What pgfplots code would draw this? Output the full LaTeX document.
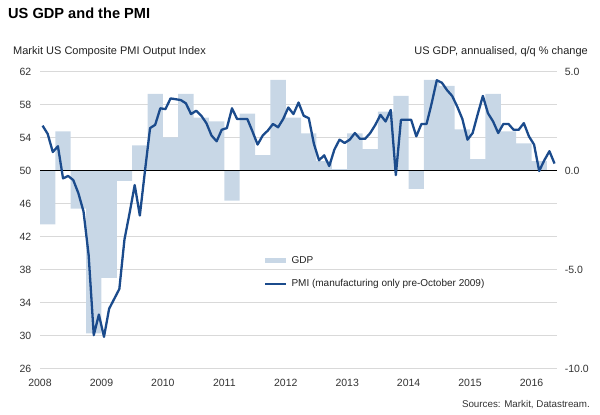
\documentclass[border=0pt]{standalone}
\usepackage{fontspec}
\setmainfont{Liberation Sans}
\usepackage{pgfplots}
\usepackage{pgfplotstable}
\pgfplotsset{compat=1.18}

\definecolor{gdpbar}{HTML}{C8D7E6}
\definecolor{pmiline}{HTML}{1B4B8C}
\definecolor{gridgrey}{HTML}{D9D9D9}
\definecolor{ticktext}{HTML}{333333}
\definecolor{labeltext}{HTML}{222222}

\newcommand{\tickfont}{\fontsize{10.5pt}{12pt}\selectfont}
\newcommand{\labelfont}{\fontsize{11pt}{13pt}\selectfont}
\newcommand{\legendfont}{\fontsize{10pt}{12pt}\selectfont}
\newcommand{\titlefont}{\fontsize{14.6pt}{17pt}\selectfont\bfseries}

% US real GDP, annualised q/q % change
\pgfplotstableread{
year q gdp
2008 1 -2.7
2008 2 2.0
2008 3 -1.9
2008 4 -8.2
2009 1 -5.4
2009 2 -0.5
2009 3 1.3
2009 4 3.9
2010 1 1.7
2010 2 3.9
2010 3 2.7
2010 4 2.5
2011 1 -1.5
2011 2 2.9
2011 3 0.8
2011 4 4.6
2012 1 2.7
2012 2 1.9
2012 3 0.5
2012 4 0.1
2013 1 1.9
2013 2 1.1
2013 3 3.0
2013 4 3.8
2014 1 -0.9
2014 2 4.6
2014 3 4.3
2014 4 2.1
2015 1 0.6
2015 2 3.9
2015 3 2.0
2015 4 1.4
2016 1 0.5
}\gdptable

% Markit US Composite PMI Output Index (manufacturing before Oct 2009)
\pgfplotstableread{
year month pmi
2008 1 55.5
2008 2 54.5
2008 3 52.3
2008 4 53.0
2008 5 49.1
2008 6 49.4
2008 7 48.9
2008 8 47.3
2008 9 45.1
2008 10 39.8
2008 11 30.1
2008 12 32.6
2009 1 29.9
2009 2 33.3
2009 3 34.5
2009 4 35.7
2009 5 41.7
2009 6 44.9
2009 7 48.3
2009 8 44.6
2009 9 50.0
2009 10 55.2
2009 11 55.6
2009 12 57.6
2010 1 57.5
2010 2 58.8
2010 3 58.7
2010 4 58.6
2010 5 58.2
2010 6 56.9
2010 7 57.3
2010 8 56.7
2010 9 55.8
2010 10 54.3
2010 11 53.6
2010 12 55.0
2011 1 55.2
2011 2 57.6
2011 3 56.3
2011 4 56.3
2011 5 56.3
2011 6 54.8
2011 7 53.2
2011 8 54.3
2011 9 54.9
2011 10 55.7
2011 11 55.3
2011 12 56.3
2012 1 57.7
2012 2 56.9
2012 3 58.3
2012 4 56.7
2012 5 56.4
2012 6 53.3
2012 7 51.3
2012 8 51.9
2012 9 50.6
2012 10 52.6
2012 11 53.8
2012 12 53.4
2013 1 53.8
2013 2 54.6
2013 3 53.9
2013 4 53.9
2013 5 54.6
2013 6 55.6
2013 7 56.8
2013 8 56.0
2013 9 57.4
2013 10 49.5
2013 11 56.2
2013 12 56.2
2014 1 56.2
2014 2 54.2
2014 3 55.7
2014 4 55.7
2014 5 58.2
2014 6 61.0
2014 7 60.7
2014 8 59.8
2014 9 59.1
2014 10 57.8
2014 11 56.3
2014 12 53.8
2015 1 54.6
2015 2 56.9
2015 3 59.1
2015 4 57.0
2015 5 56.0
2015 6 54.6
2015 7 55.7
2015 8 55.7
2015 9 55.0
2015 10 55.0
2015 11 55.8
2015 12 54.2
2016 1 53.2
2016 2 50.0
2016 3 51.3
2016 4 52.4
2016 5 50.9
}\pmitable

\pgfplotsset{
  frame/.style={
    at={(40pt,46pt)}, anchor=south west,
    scale only axis, width=516.7pt, height=297pt,
    xmin=2008, xmax=2016.41,
    axis line style={draw=none},
    major tick length=0pt,
    tick style={draw=none},
  },
}

\begin{document}
\begin{tikzpicture}[x=1pt,y=1pt]
\useasboundingbox (0,0) rectangle (600,415);

% left scale: grid, PMI ticks and years
\begin{axis}[frame,
  ymin=26, ymax=62,
  ytick={26,30,34,38,42,46,50,54,58,62},
  yticklabels={26,30,34,38,42,46,50,54,58,62},
  xtick={2008,2009,2010,2011,2012,2013,2014,2015,2016},
  xticklabels={2008,2009,2010,2011,2012,2013,2014,2015,2016},
  ymajorgrids,
  major grid style={gridgrey, line width=1pt},
  yticklabel style={font=\tickfont, text=ticktext, inner sep=0pt, anchor=east, xshift=-8.5pt},
  xticklabel style={font=\tickfont, text=ticktext, inner sep=0pt, anchor=north, yshift=-9.5pt},
]
\addplot[draw=none] coordinates {(2008,50)};
\end{axis}

% right scale: GDP bars and zero line
\begin{axis}[frame,
  ymin=-10, ymax=5,
  ytick={-10,-5,0,5},
  yticklabels={-10.0,-5.0,0.0,5.0},
  yticklabel pos=right,
  yticklabel style={font=\tickfont, text=ticktext, inner sep=0pt, anchor=west, xshift=8pt},
  xtick=\empty,
  axis on top,
  extra y ticks={0},
  extra y tick labels={},
  extra y tick style={grid=major, major grid style={black, line width=1pt}},
]
\addplot[ybar, bar width=0.25, fill=gdpbar, draw=none]
  table[x expr=\thisrow{year}+(\thisrow{q}-0.5)/4, y=gdp] {\gdptable};
\end{axis}

% PMI line and legend
\begin{axis}[frame,
  ymin=26, ymax=62,
  hide axis,
  legend style={at={(0.4316,0.380)}, anchor=north west, draw=none, fill=none,
    inner sep=0pt, outer sep=0pt, row sep=15pt,
    font=\legendfont, text=labeltext,
    nodes={inner sep=0pt}},
  legend cell align=left,
]
\addlegendimage{legend image code/.code={
  \draw[gdpbar, line width=4.7pt] (0pt,0pt) -- (21pt,0pt);
  \path (25pt,0pt);}}
\addplot[pmiline, line width=2.3pt, line join=round,
  legend image code/.code={
    \draw[pmiline, line width=2.5pt] (0pt,0pt) -- (21pt,0pt);
    \path (25pt,0pt);}]
  table[x expr=\thisrow{year}+(\thisrow{month}-0.5)/12, y=pmi] {\pmitable};
\legend{GDP, PMI (manufacturing only pre-October 2009)}
\end{axis}

\node[anchor=base west, inner sep=0pt, font=\titlefont, text=black] at (8,396) {US GDP and the PMI};
\node[anchor=base west, inner sep=0pt, font=\labelfont, text=labeltext] at (13,360) {Markit US Composite PMI Output Index};
\node[anchor=base east, inner sep=0pt, font=\labelfont, text=labeltext] at (588,360.5) {US GDP, annualised, q/q \% change};
\node[anchor=base east, inner sep=0pt, font=\fontsize{9.8pt}{11pt}\selectfont, text=ticktext] at (590,7.5) {Sources: Markit, Datastream.};
\end{tikzpicture}
\end{document}
